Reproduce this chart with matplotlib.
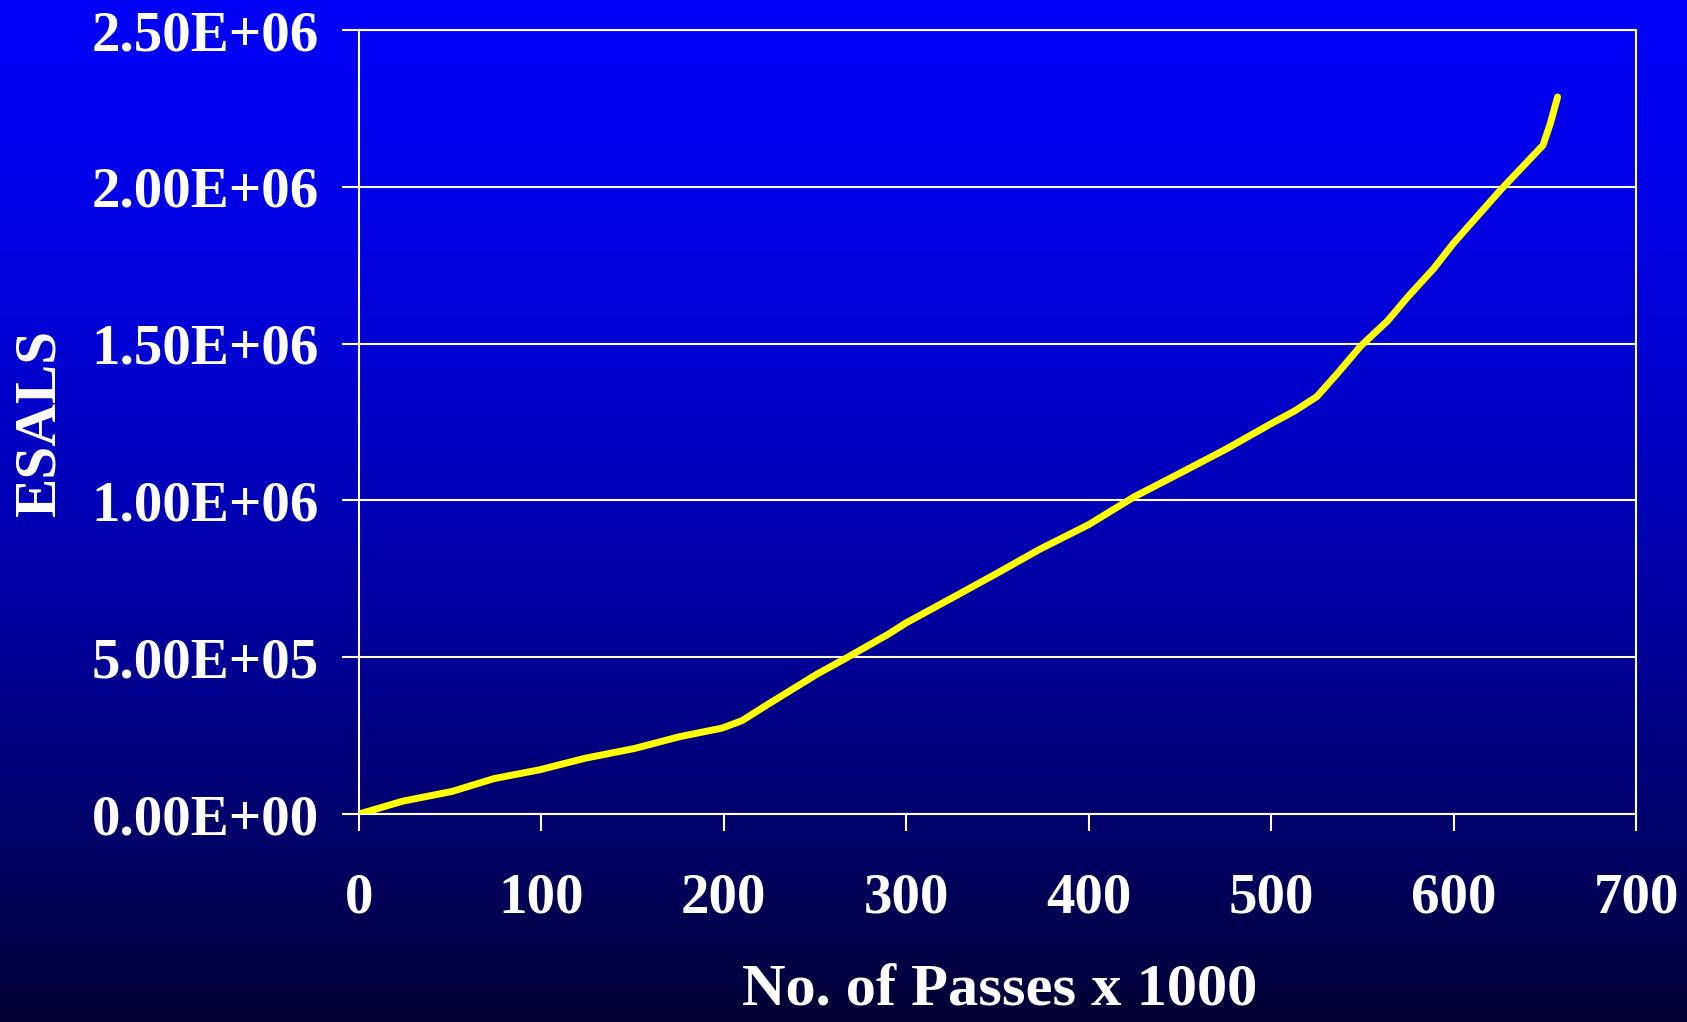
import numpy as np
import matplotlib.pyplot as plt

# passes (x1000) vs ESALs
passes = [0, 24, 51, 74, 99, 124, 151, 176, 199, 210, 225, 251, 266, 290, 300,
          325, 351, 373, 400, 425, 450, 475, 500, 513, 525, 536, 549, 564, 575,
          589, 600, 626, 649, 653, 657]
esals = [0.0, 0.041e6, 0.072e6, 0.113e6, 0.141e6, 0.178e6, 0.209e6, 0.247e6,
         0.274e6, 0.298e6, 0.353e6, 0.446e6, 0.494e6, 0.573e6, 0.610e6,
         0.689e6, 0.772e6, 0.844e6, 0.923e6, 1.012e6, 1.087e6, 1.163e6,
         1.245e6, 1.286e6, 1.331e6, 1.403e6, 1.492e6, 1.574e6, 1.650e6,
         1.739e6, 1.821e6, 1.992e6, 2.133e6, 2.202e6, 2.287e6]
x_ticks = [0, 100, 200, 300, 400, 500, 600, 700]
y_ticks = [0, 5e5, 1e6, 1.5e6, 2e6, 2.5e6]

plt.rcParams['font.family'] = ['Liberation Serif', 'DejaVu Serif']
plt.rcParams['font.weight'] = 'bold'

fig = plt.figure(figsize=(16.87, 10.22), dpi=100)

# gradient background over the whole figure
bg = fig.add_axes([0, 0, 1, 1], zorder=-10)
t = np.linspace(0, 1, 512)[:, None]
blue = 245 - 195 * t ** 1.6
grad = np.dstack([np.zeros_like(blue), np.zeros_like(blue), blue / 255.0])
bg.imshow(grad, aspect='auto', extent=[0, 1, 0, 1])
bg.axis('off')

ax = fig.add_axes([0.2128, 0.2035, 0.757, 0.767])
ax.patch.set_alpha(0)
ax.plot(passes, esals, color='#ffff00', lw=5, solid_capstyle='round',
        solid_joinstyle='round', zorder=3)

ax.set_xlim(0, 700)
ax.set_ylim(0, 2.5e6)
ax.set_xticks(x_ticks)
ax.set_yticks(y_ticks)
ax.set_yticklabels(['%.2E' % v for v in y_ticks])
ax.grid(axis='y', color='white', lw=1.5)
for s in ax.spines.values():
    s.set_color('white')
    s.set_linewidth(1.5)
ax.tick_params(colors='white', labelsize=41, length=12, width=1.5)
ax.tick_params(axis='y', pad=17)
ax.tick_params(axis='x', pad=30)

fig.text(0.024, 0.587, 'ESALS', rotation=90, color='white', fontsize=42.5,
         fontweight='bold', ha='center', va='center')
fig.text(0.5925, 0.016, 'No. of Passes x 1000', color='white', fontsize=43.5,
         fontweight='bold', ha='center', va='baseline')

fig.savefig('out.png', dpi=100)
